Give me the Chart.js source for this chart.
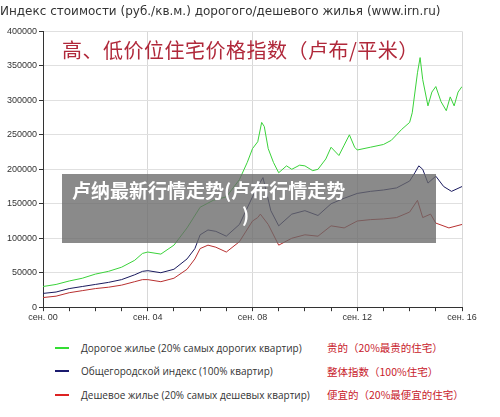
<!DOCTYPE html>
<html><head><meta charset="utf-8">
<script src="https://cdn.jsdelivr.net/npm/chart.js@4"></script>
<style>
body{margin:0;width:500px;height:417px;background:#fff;position:relative;overflow:hidden;font-family:"DejaVu Sans",sans-serif}
#wrap{position:absolute;left:0;top:0;width:500px;height:324px}
#cn{position:absolute;left:62px;top:35px;font-family:"Noto Sans CJK SC";font-size:20px;color:#b0283a;white-space:nowrap;letter-spacing:0.5px}
#ov{position:absolute;left:62px;top:174px;width:374px;height:69px;background:rgba(105,105,105,0.78);color:#fff;font-family:"Noto Sans CJK SC";font-weight:bold;font-size:19px;line-height:24px;padding:4px 10px;box-sizing:border-box}
#lg{position:absolute;left:55px;top:336px;font-size:10px;color:#333;font-family:"Open Sans",sans-serif}
.r{height:23.5px;display:flex;align-items:center}
.ln{width:14px;height:2px;margin-right:12px}
.ru{width:246px}
.zh{color:#c8202a;font-family:"Noto Sans CJK SC";font-size:10.5px}
</style></head><body>
<div id="wrap"><canvas id="c"></canvas></div>
<div id="cn">高、低价位住宅价格指数（卢布/平米）</div>
<div id="ov">卢纳最新行情走势(卢布行情走势<br><span style="padding-left:170px">)</span></div>
<div id="lg">
<div class="r"><div class="ln" style="background:#33dd33"></div><div class="ru">Дорогое жилье (20% самых дорогих квартир)</div><div class="zh">贵的（20%最贵的住宅）</div></div>
<div class="r"><div class="ln" style="background:#1a1a6e"></div><div class="ru">Общегородской индекс (100% квартир)</div><div class="zh">整体指数（100%住宅）</div></div>
<div class="r"><div class="ln" style="background:#dd2222"></div><div class="ru">Дешевое жилье (20% самых дешевых квартир)</div><div class="zh">便宜的（20%最便宜的住宅）</div></div>
</div>
<script>
const tickLabels=["сен. 00","сен. 04","сен. 08","сен. 12","сен. 16"];
const greenX=[0,0.5,1,1.5,2,2.5,3,3.5,3.8,4,4.5,5,5.5,6,6.5,7,7.5,7.8,8,8.2,8.35,8.45,8.6,8.8,9,9.3,9.5,9.8,10,10.3,10.5,10.8,11,11.1,11.3,11.5,11.7,11.9,12,12.5,13,13.3,13.7,14,14.1,14.3,14.4,14.5,14.7,14.85,15,15.2,15.4,15.55,15.7,15.85,16];
const greenY=[30000,33000,38000,42000,48000,52000,58000,68000,78000,80000,77000,90000,115000,145000,155000,160000,185000,210000,230000,240000,268000,262000,230000,210000,195000,205000,200000,206000,205000,198000,200000,215000,232000,228000,220000,235000,250000,232000,228000,232000,236000,242000,258000,268000,282000,340000,362000,330000,292000,312000,320000,298000,285000,305000,292000,312000,320000];
const blueX=[0,0.5,1,1.5,2,2.5,3,3.5,3.8,4,4.5,5,5.5,5.8,6,6.3,6.6,7,7.5,8,8.2,8.4,8.7,9,9.5,10,10.5,11,11.5,12,12.5,13,13.5,14,14.2,14.35,14.5,14.7,15,15.3,15.6,16];
const blueY=[20000,22000,27000,30000,33000,36000,40000,47000,52000,53000,50000,55000,70000,85000,105000,112000,110000,103000,120000,160000,175000,188000,140000,118000,135000,140000,133000,150000,158000,165000,168000,170000,173000,183000,195000,205000,200000,180000,190000,175000,168000,175000];
const redX=[0,0.5,1,1.5,2,2.5,3,3.5,3.8,4,4.5,5,5.5,5.8,6,6.3,6.6,7,7.5,8,8.2,8.3,8.6,9,9.5,10,10.5,11,11.5,12,12.5,13,13.5,14,14.3,14.5,14.8,15,15.5,16];
const redY=[14000,16000,21000,24000,27000,29000,32000,37000,40000,40000,37000,42000,55000,70000,85000,90000,87000,80000,95000,125000,130000,135000,120000,90000,100000,105000,103000,118000,115000,125000,127000,128000,130000,138000,155000,130000,135000,122000,115000,120000];
const pts=(xs,ys)=>xs.map((x,i)=>({x,y:ys[i]}));
const ds=(d,c)=>({data:d,borderColor:c,borderWidth:1,pointRadius:0,tension:0,fill:false});
new Chart(document.getElementById('c'),{type:'line',
data:{datasets:[ds(pts(greenX,greenY),'#3ad23a'),ds(pts(blueX,blueY),'#1a1a5e'),ds(pts(redX,redY),'#b83030')]},
options:{responsive:true,maintainAspectRatio:false,animation:false,
layout:{padding:{top:0,right:38,left:0,bottom:0}},
plugins:{legend:{display:false},tooltip:{enabled:false},
title:{display:true,text:'Индекс стоимости (руб./кв.м.) дорогого/дешевого жилья (www.irn.ru)',align:'start',color:'#333',font:{size:12,family:'DejaVu Sans',weight:'normal'},padding:{top:5,bottom:12}}},
scales:{
x:{type:'linear',min:0,max:16,
 afterBuildTicks:s=>{s.ticks=[];for(let i=0;i<=16;i++)s.ticks.push({value:i});},
 ticks:{autoSkip:false,maxRotation:0,color:'#333',font:{size:9},padding:1,callback:v=>v%4===0?tickLabels[v/4]:''},
 grid:{color:c=>c.tick&&c.tick.value%4===0?'#d8d8d8':'rgba(0,0,0,0)',tickColor:'#333',tickLength:4},
 border:{color:'#333'}},
y:{min:0,max:400000,
 afterFit:s=>{s.width=43;},
 ticks:{stepSize:50000,color:'#333',font:{size:9},padding:2,callback:v=>String(v)},
 grid:{color:'#e0e0e0',tickColor:'#333',tickLength:4},border:{color:'#333'}}
}}});
</script>
</body></html>
